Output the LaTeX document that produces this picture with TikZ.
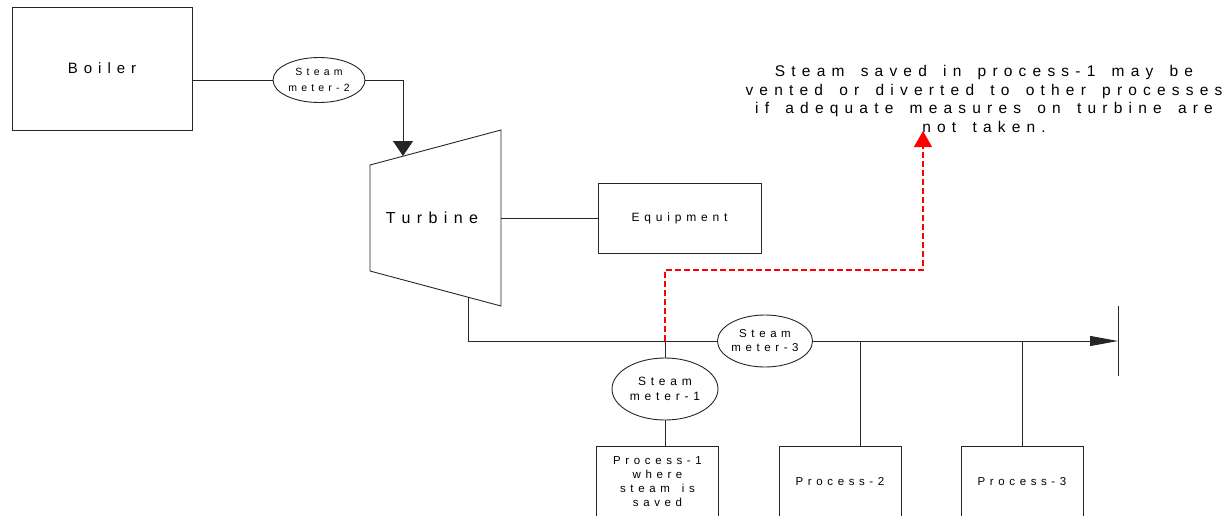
\documentclass[tikz,border=0pt]{standalone}
\usepackage{fontspec}
\newfontfamily\diagfont[LetterSpace=40, WordSpace=1.55]{Liberation Sans}
\usetikzlibrary{
    positioning,
    shapes.geometric,
    arrows.meta
    }

\begin{document}
\begin{tikzpicture}[x=1pt, y=-1pt]
\tikzset{pipe/.style =
        {
            line width=0.9pt,
            black!85
        }
}

\tikzset{unit/.style =
        {
            rectangle,
            pipe,
            draw,
            fill=white,
            inner sep=0pt,
            align=center,
            text=black
        }
}

\tikzset{meter/.style =
        {
            unit,
            shape=ellipse,
            font=\diagfont\fontsize{12}{14.5}\selectfont
        }
}

\tikzset{process/.style =
        {
            unit,
            minimum width=122,
            minimum height=71,
            font=\diagfont\fontsize{11.5}{14}\selectfont
        }
}

\tikzset{feed/.style = {
            pipe,
            -{Triangle[length=15pt, width=20pt]}
        }
}

\tikzset{vent/.style = {
            line width=1.2pt,
            red,
            dash pattern=on 6pt off 3pt,
            -{Triangle[length=16pt, width=18pt]}
        }
}

\tikzset{note/.style = {
            align=center,
            inner sep=0pt,
            text=black,
            font=\diagfont\fontsize{15.5}{18.7}\selectfont
        }
}
		\useasboundingbox (0,0) rectangle (1226,515);

		% plant
		\node[unit, minimum width=180, minimum height=123, font=\diagfont\fontsize{15}{18}\selectfont] at (102,68.5) (boiler) {Boiler};
		\node[meter, minimum width=92, minimum height=45, font=\diagfont\fontsize{10.5}{16}\selectfont] at (319,80) (sm2) {Steam\\meter-2};
		\node[unit, minimum width=163, minimum height=70, font=\diagfont\fontsize{12}{14}\selectfont] at (679.5,218) (equip) {Equipment};

		\draw[pipe] (370,165) -- (501,130) -- (501,306) -- (370,271) -- cycle;
		\node[note, font=\diagfont\fontsize{16}{18}\selectfont] at (432,218) (turbine) {Turbine};
		\coordinate (turb-in) at (403,156);
		\coordinate (turb-shaft) at (501,218);
		\coordinate (turb-out) at (468,297);

		% header and processes
		\node[meter, minimum width=92, minimum height=52, font=\diagfont\fontsize{11.5}{14}\selectfont] at (765,341) (sm3) {Steam\\meter-3};
		\node[meter, minimum width=106, minimum height=62] at (665,389) (sm1) {Steam\\meter-1};

		\foreach \id / \x / \lab in
			{p1/657.5/{Process-1\\where\\steam is\\saved},
				p2/840/Process-2,
				p3/1022/Process-3}
		\node[process] at (\x,481.5) (\id) {\lab};

		\coordinate (header-end) at (1118,341);
		\coordinate (j1) at (665,341);
		\coordinate (bend) at (923,270);
		\coordinate (vent-end) at (923,131);

		\node[note] at (984,99) (warn) {Steam saved in process-1 may be\\vented or diverted to other processes\\if adequate measures on turbine are\\not taken.};

		\draw[pipe] (boiler.east |- sm2) -- (sm2);
		\draw[feed] (sm2) -| (turb-in);
		\draw[pipe] (turb-shaft) -- (equip);
		\draw[pipe] (turb-out) |- (sm3);
		\draw[pipe, -{Triangle[length=28pt, width=10pt]}] (sm3) -- (header-end);
		\draw[pipe] ([yshift=35pt]header-end) -- ([yshift=-35pt]header-end);

		\draw[pipe] (j1) -- (sm1);
		\draw[pipe] (sm1) -- (sm1.south |- p1.north);
		\foreach \j / \x / \p in {j2/860/p2, j3/1022/p3}
			{
				\coordinate (\j) at (\x,341);
				\draw[pipe] (\j) -- (\j |- \p.north);
			}

		\draw[vent] (j1) |- (bend) -- (vent-end);
	\end{tikzpicture}
\end{document}
